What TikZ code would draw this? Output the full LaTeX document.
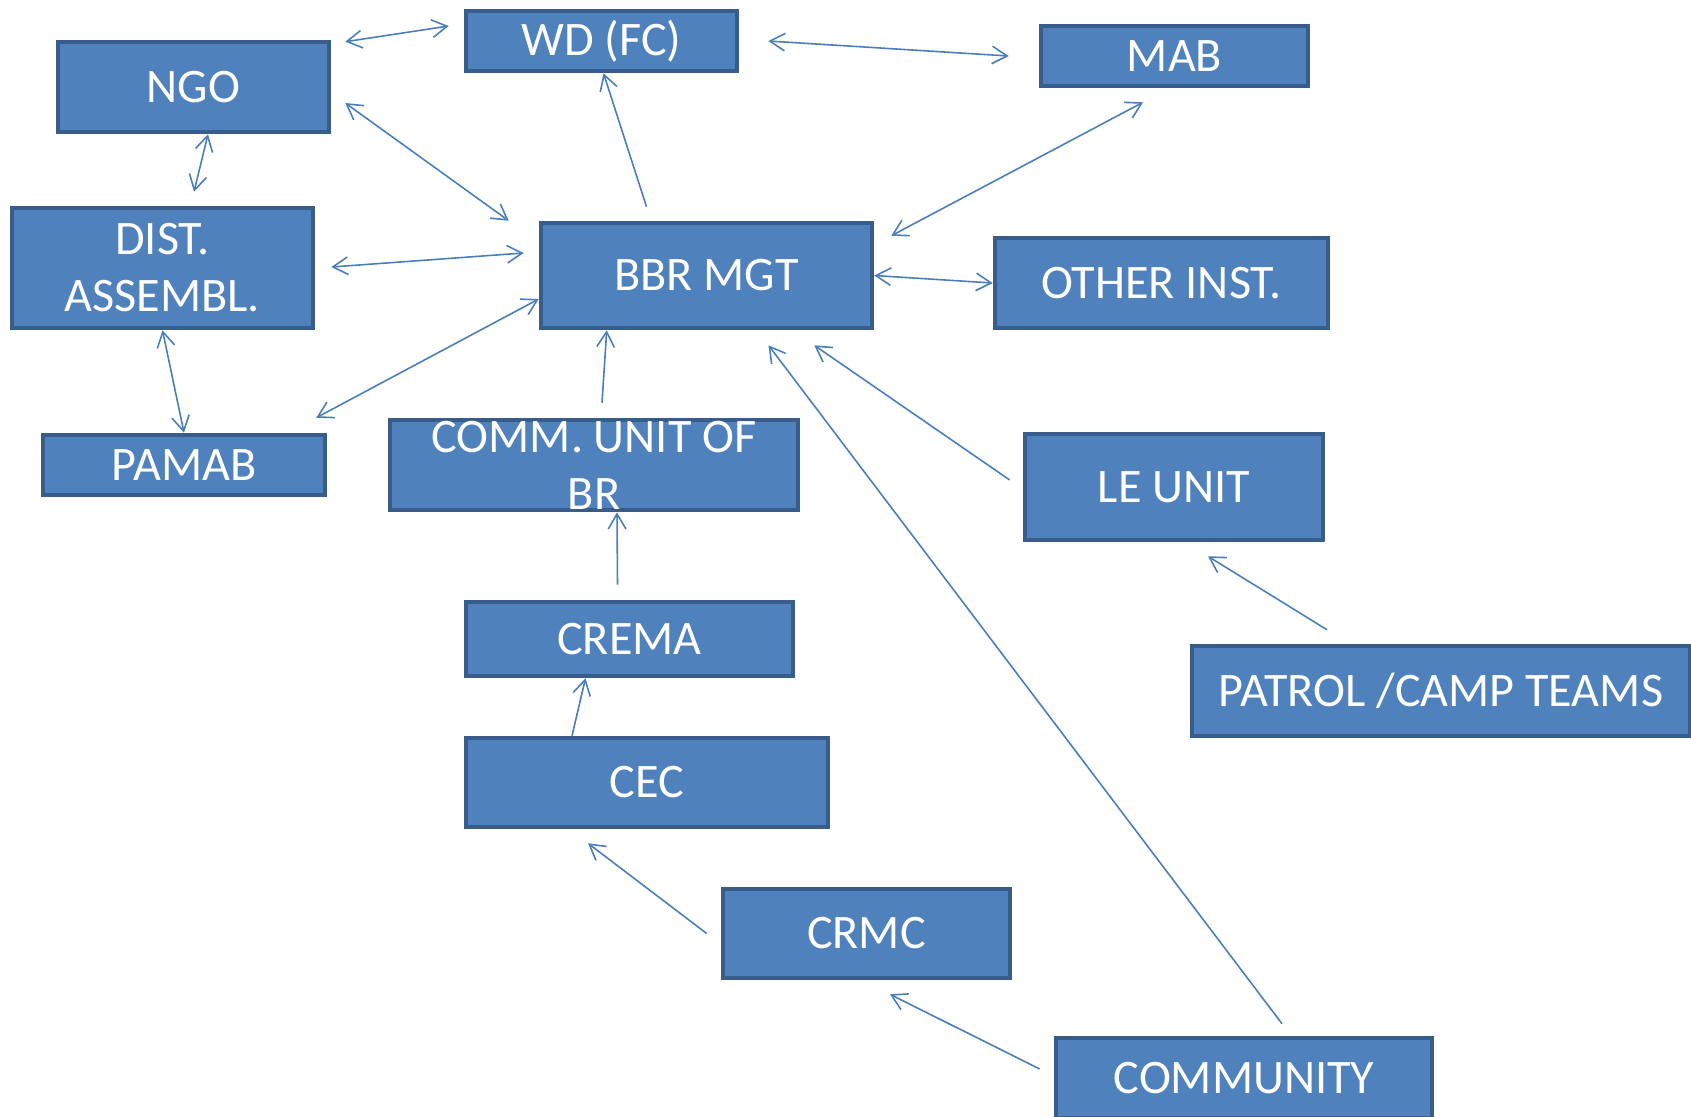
\documentclass[tikz,border=0pt]{standalone}
\usepackage{fontspec}
\setmainfont{Carlito}
\usepackage{tikz}
\usetikzlibrary{arrows.meta, positioning}
\definecolor{boxfill}{HTML}{4F81BD}
\definecolor{boxline}{HTML}{385D8A}
\definecolor{arrline}{HTML}{4A7EBB}

\begin{document}
\begin{tikzpicture}[
  blk/.style={rectangle, draw=boxline, fill=boxfill, line width=1.3pt, text=white, font=\fontsize{13.7}{16.2}\selectfont, align=center, inner sep=0pt},
  arr/.style={draw=arrline, line width=0.45pt, -{Straight Barb[length=4.3pt,width=5pt]}},
  dbl/.style={draw=arrline, line width=0.45pt, {Straight Barb[length=4.3pt,width=5pt]}-{Straight Barb[length=4.3pt,width=5pt]}},
]
\useasboundingbox (0,0) rectangle (16.91,-11.16);

\node[blk, minimum width=2.71cm, minimum height=0.60cm] (wd)     at (6.015,-0.41)  {WD (FC)};
\node[blk, minimum width=2.67cm, minimum height=0.60cm] (mab)    at (11.745,-0.56) {MAB};
\node[blk, minimum width=2.71cm, minimum height=0.90cm] (ngo)    at (1.935,-0.87)  {NGO};
\node[blk, minimum width=3.01cm, minimum height=1.20cm] (dist)   at (1.625,-2.68)  {DIST.\\ASSEMBL.};
\node[blk, minimum width=3.31cm, minimum height=1.05cm] (bbr)    at (7.065,-2.755) {BBR MGT};
\node[blk, minimum width=3.33cm, minimum height=0.90cm] (other)  at (11.615,-2.83) {OTHER INST.};
\node[blk, minimum width=2.82cm, minimum height=0.60cm] (pamab)  at (1.84,-4.65)   {PAMAB};
\node[blk, minimum width=4.08cm, minimum height=0.90cm] (comm)   at (5.94,-4.65)   {COMM. UNIT OF\\BR};
\node[blk, minimum width=2.98cm, minimum height=1.06cm] (le)     at (11.74,-4.87)  {LE UNIT};
\node[blk, minimum width=3.27cm, minimum height=0.74cm] (crema)  at (6.295,-6.39)  {CREMA};
\node[blk, minimum width=4.98cm, minimum height=0.90cm] (patrol) at (14.41,-6.91)  {PATROL /CAMP TEAMS};
\node[blk, minimum width=3.62cm, minimum height=0.89cm] (cec)    at (6.47,-7.825)  {CEC};
\node[blk, minimum width=2.87cm, minimum height=0.89cm] (crmc)   at (8.665,-9.335) {CRMC};
\node[blk, minimum width=3.76cm, minimum height=0.80cm] (commty) at (12.44,-10.78) {COMMUNITY};

% two-way links
\draw[dbl] ([shift={(0.14,-0.02)}]ngo.north east) -- ([shift={(-0.15,0.15)}]wd.west);
\draw[dbl] ([shift={(0.29,0)}]wd.east) -- ([shift={(-0.30,0)}]mab.west);
\draw[dbl] ([shift={(0.14,-0.16)}]ngo.east) -- ([shift={(-0.30,0)}]bbr.north west);
\draw[dbl] ([shift={(0.145,0)}]ngo.south) -- ([shift={(0.315,0.14)}]dist.north);
\draw[dbl] ([shift={(0.16,0.01)}]dist.east) -- ([shift={(-0.15,0.225)}]bbr.west);
\draw[dbl] ([shift={(0.17,-0.15)}]bbr.north east) -- ([shift={(-0.315,-0.14)}]mab.south);
\draw[dbl] (bbr.east) -- (other.west);
\draw[dbl] (dist.south) -- (pamab.north);
\draw[dbl] ([shift={(-0.11,0.15)}]pamab.north east) -- ([shift={(0,-0.235)}]bbr.west);

% one-way links
\draw[arr] ([shift={(-0.60,0.14)}]bbr.north) -- ([shift={(0.02,0)}]wd.south);
\draw[arr] ([shift={(0.08,0.15)}]comm.north) -- ([shift={(0.68,0)}]bbr.south west);
\draw[arr] ([shift={(-0.12,0.15)}]crema.north) -- ([shift={(0.23,0)}]comm.south);
\draw[arr] ([shift={(-0.75,0)}]cec.north) -- ([shift={(-0.44,0)}]crema.south);
\draw[arr] ([shift={(-0.14,0)}]crmc.west) -- ([shift={(-0.59,-0.14)}]cec.south);
\draw[arr] ([shift={(-0.14,0.09)}]commty.west) -- ([shift={(0.235,-0.14)}]crmc.south);
\draw[arr] ([shift={(0.38,0.12)}]commty.north) -- ([shift={(0.62,-0.15)}]bbr.south);
\draw[arr] ([shift={(-0.13,0.07)}]le.west) -- ([shift={(-0.60,-0.15)}]bbr.south east);
\draw[arr] ([shift={(-1.14,0.14)}]patrol.north) -- ([shift={(0.34,-0.14)}]le.south);
\end{tikzpicture}
\end{document}
